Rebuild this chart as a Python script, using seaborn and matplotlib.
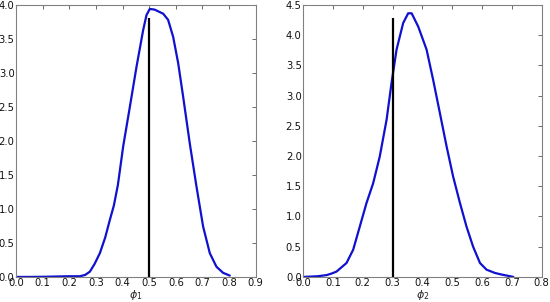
import numpy as np
import pandas as pd
import matplotlib
matplotlib.use("Agg")
import matplotlib.pyplot as plt
import seaborn as sns

# density curve for phi_1
phi1_x = [0.0, 0.05, 0.10, 0.15, 0.19, 0.22, 0.24, 0.26, 0.2775, 0.295, 0.315, 0.335,
          0.3525, 0.3675, 0.3825, 0.4025, 0.4275, 0.4525, 0.4775, 0.49, 0.5025, 0.52, 0.5525,
          0.571, 0.59, 0.609, 0.6275, 0.6525, 0.6775, 0.7025, 0.7275, 0.7525, 0.7775, 0.8025]
phi1_y = [0.0, 0.0, 0.002, 0.006, 0.01, 0.01, 0.01, 0.03, 0.078, 0.19, 0.35, 0.58,
          0.84, 1.05, 1.35, 1.92, 2.50, 3.09, 3.63, 3.85, 3.94, 3.93, 3.87,
          3.78, 3.53, 3.14, 2.65, 1.96, 1.33, 0.74, 0.35, 0.15, 0.06, 0.02]
phi1_true = 0.5
phi1_line_top = 3.80

# density curve for phi_2
phi2_x = [0.0, 0.0225, 0.05, 0.0785, 0.095, 0.112, 0.1456, 0.168, 0.19, 0.2125, 0.235,
          0.257, 0.28, 0.2966, 0.3134, 0.3356, 0.3523, 0.364, 0.386, 0.414, 0.436,
          0.4586, 0.481, 0.503, 0.526, 0.548, 0.57, 0.593, 0.615, 0.643, 0.665, 0.688, 0.705]
phi2_y = [0.0, 0.005, 0.012, 0.03, 0.055, 0.088, 0.23, 0.45, 0.83, 1.22, 1.55,
          1.99, 2.60, 3.21, 3.76, 4.20, 4.36, 4.36, 4.14, 3.76, 3.26,
          2.71, 2.16, 1.66, 1.22, 0.83, 0.50, 0.23, 0.12, 0.066, 0.04, 0.017, 0.0]
phi2_true = 0.3
phi2_line_top = 4.29

xlabels = [r"$\phi_1$", r"$\phi_2$"]
xlims = [(0.0, 0.9), (0.0, 0.8)]
ylims = [(0.0, 4.0), (0.0, 4.5)]

sns.set_style("white")
plt.rcParams["font.family"] = ["DejaVu Sans"]

fig = plt.figure(figsize=(5.5, 3.02), dpi=100)
ax1 = fig.add_axes([0.029, 0.083, 0.436, 0.901])
ax2 = fig.add_axes([0.551, 0.083, 0.434, 0.901])

panels = [
    (ax1, phi1_x, phi1_y, phi1_true, phi1_line_top),
    (ax2, phi2_x, phi2_y, phi2_true, phi2_line_top),
]

for i, (ax, xs, ys, true_val, top) in enumerate(panels):
    df = pd.DataFrame({"x": xs, "density": ys})
    sns.lineplot(data=df, x="x", y="density", ax=ax, color="#1010d0", lw=1.6,
                 sort=True, estimator=None)
    ax.lines[-1].set_solid_joinstyle("round")
    ax.vlines(true_val, 0, top, color="black", lw=1.6)
    ax.set_xlim(*xlims[i])
    ax.set_ylim(*ylims[i])
    ax.set_xticks(np.arange(xlims[i][0], xlims[i][1] + 1e-9, 0.1))
    ax.set_yticks(np.arange(ylims[i][0], ylims[i][1] + 1e-9, 0.5))
    ax.xaxis.set_major_formatter(matplotlib.ticker.FormatStrFormatter("%.1f"))
    ax.yaxis.set_major_formatter(matplotlib.ticker.FormatStrFormatter("%.1f"))
    ax.tick_params(direction="in", length=3, width=0.6, labelsize=7.2, pad=1,
                   top=True, right=True, color="#555555", labelcolor="#111111")
    ax.set_xlabel(xlabels[i], fontsize=8, labelpad=-0.5)
    ax.set_ylabel("")
    for s in ax.spines.values():
        s.set_color("#808080")
        s.set_linewidth(0.8)

fig.savefig("out.png", dpi=100)
